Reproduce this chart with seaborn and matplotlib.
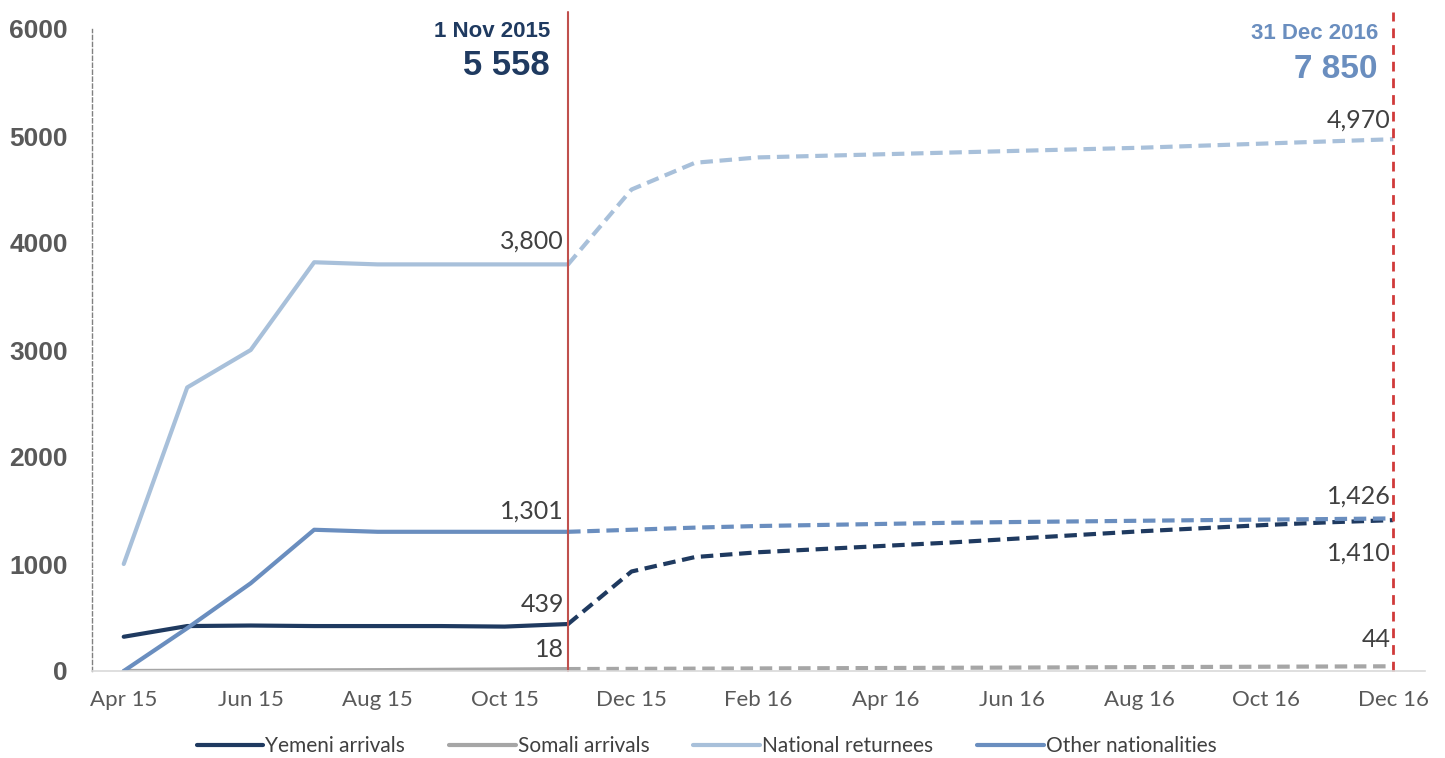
import numpy as np
import pandas as pd
import matplotlib.pyplot as plt
import seaborn as sns
from matplotlib.lines import Line2D
from matplotlib import font_manager

months = ['Apr 15', 'May 15', 'Jun 15', 'Jul 15', 'Aug 15', 'Sep 15', 'Oct 15', 'Nov 15',
          'Dec 15', 'Jan 16', 'Feb 16', 'Mar 16', 'Apr 16', 'May 16', 'Jun 16', 'Jul 16',
          'Aug 16', 'Sep 16', 'Oct 16', 'Nov 16', 'Dec 16']
series_names = ['Yemeni arrivals', 'Somali arrivals', 'National returnees', 'Other nationalities']
colors = ['#1f3a60', '#a6a6a6', '#a8c0da', '#6a8ebf']

# Apr 15 - Nov 15 (recorded)
yemeni_actual = [320, 420, 425, 420, 420, 420, 415, 439]
somali_actual = [0, 2, 4, 6, 8, 11, 14, 18]
national_actual = [1000, 2650, 3000, 3820, 3800, 3800, 3800, 3800]
other_actual = [0, 400, 820, 1320, 1301, 1301, 1301, 1301]

# Nov 15 - Dec 16 (projected)
yemeni_proj = [439, 930, 1065, 1110, 1140, 1170, 1200, 1235, 1270, 1305, 1335, 1365, 1390, 1410]
somali_proj = [18, 20, 22, 24, 26, 28, 30, 32, 34, 36, 38, 40, 42, 44]
national_proj = [3800, 4500, 4750, 4800, 4815, 4830, 4845, 4860, 4875, 4890, 4910, 4930, 4950, 4970]
other_proj = [1301, 1320, 1340, 1355, 1365, 1375, 1385, 1392, 1398, 1404, 1410, 1415, 1420, 1426]

actual = [yemeni_actual, somali_actual, national_actual, other_actual]
proj = [yemeni_proj, somali_proj, national_proj, other_proj]

rows = []
for name, a, p in zip(series_names, actual, proj):
    for i, v in enumerate(a):
        rows.append((name, 'actual', i, v))
    for i, v in enumerate(p):
        rows.append((name, 'projected', i + len(a) - 1, v))
df = pd.DataFrame(rows, columns=['series', 'phase', 'idx', 'value'])

# narrow face for the Calibri-like texts
try:
    font_manager.findfont('Liberation Sans Narrow', fallback_to_default=False)
    narrow = 'Liberation Sans Narrow'
    sz = dict(tick=17, label=20, legend=16.5)
except Exception:
    narrow = 'Lato'
    sz = dict(tick=16, label=18, legend=15)

sns.set_style('white')
plt.rcParams['font.family'] = [narrow, 'DejaVu Sans']

fig = plt.figure(figsize=(14.45, 7.58), dpi=100)
ax = fig.add_axes([92 / 1445, 1 - 671 / 758, (1425 - 92) / 1445, (671 - 29) / 758])

sns.lineplot(data=df, x='idx', y='value', hue='series', style='phase',
             hue_order=series_names, palette=colors,
             dashes={'actual': '', 'projected': (3, 1.6)},
             linewidth=3, errorbar=None, legend=False, ax=ax)

# reference dates
ax.axvline(7, ymin=0, ymax=1.027, color='#c0504d', lw=1.5, clip_on=False)
ax.axvline(20, ymin=0, ymax=1.027, color='#d03a3a', lw=2, ls=(0, (3.5, 2.5)), clip_on=False)

ax.set_xlim(-0.5, 20.5)
ax.set_ylim(0, 6000)
ax.set_xticks(range(0, 21, 2))
ax.set_xticklabels(months[::2])
ax.set_xticks(np.arange(1.5, 20, 2), minor=True)
ax.tick_params(axis='x', which='major', length=0, pad=14, labelsize=sz['tick'], labelcolor='#595959')
ax.tick_params(axis='x', which='minor', length=8, width=1, color='#d9d9d9')
ax.set_yticks(range(0, 6001, 1000))
ax.set_yticklabels([str(v) for v in range(0, 6001, 1000)],
                   family='Liberation Sans', fontweight='bold')
ax.tick_params(axis='y', direction='inout', length=7, width=1, color='#808080',
               pad=14, labelsize=19, labelcolor='#595959')
ax.set_xlabel('')
ax.set_ylabel('')
sns.despine(ax=ax)
ax.spines['bottom'].set_color('#d9d9d9')
ax.spines['bottom'].set_linewidth(1.2)
ax.spines['left'].set_color('#808080')
ax.spines['left'].set_linewidth(1)
ax.spines['left'].set_linestyle((0, (3, 2)))

# data labels
lab = dict(textcoords='offset points', ha='right', va='center', fontsize=sz['label'], color='#404040')
ax.annotate('3,800', (7, national_actual[-1]), xytext=(-3, 17), **lab)
ax.annotate('1,301', (7, other_actual[-1]), xytext=(-3, 15), **lab)
ax.annotate('439', (7, yemeni_actual[-1]), xytext=(-3, 14), **lab)
ax.annotate('18', (7, somali_actual[-1]), xytext=(-3, 14), **lab)
ax.annotate('4,970', (20, national_proj[-1]), xytext=(-2, 14), **lab)
ax.annotate('1,426', (20, other_proj[-1]), xytext=(-2, 16), **lab)
ax.annotate('1,410', (20, yemeni_proj[-1]), xytext=(-2, -24), **lab)
ax.annotate('44', (20, somali_proj[-1]), xytext=(-2, 19), **lab)

# totals at the two dates
tr = ax.get_xaxis_transform()
head = dict(xycoords=tr, textcoords='offset points', ha='right', va='center',
            family='Liberation Sans', fontweight='bold')
ax.annotate('1 Nov 2015', (7, 1), xytext=(-13, -2), fontsize=16, color='#1f3a60', **head)
ax.annotate('5 558', (7, 1), xytext=(-13, -26), fontsize=25, color='#1f3a60', **head)
ax.annotate('31 Dec 2016', (20, 1), xytext=(-11, -3), fontsize=16, color='#6a8ebf', **head)
ax.annotate('7 850', (20, 1), xytext=(-11, -29), fontsize=24, color='#6a8ebf', **head)

handles = [Line2D([], [], color=c, lw=3) for c in colors]
fig.legend(handles, series_names, loc='center', bbox_to_anchor=(0.489, 0.016), ncol=4,
           frameon=False, fontsize=sz['legend'], labelcolor='#404040', handlelength=3.2,
           handletextpad=0.1, columnspacing=2.1)

fig.savefig('out.png', dpi=100)
